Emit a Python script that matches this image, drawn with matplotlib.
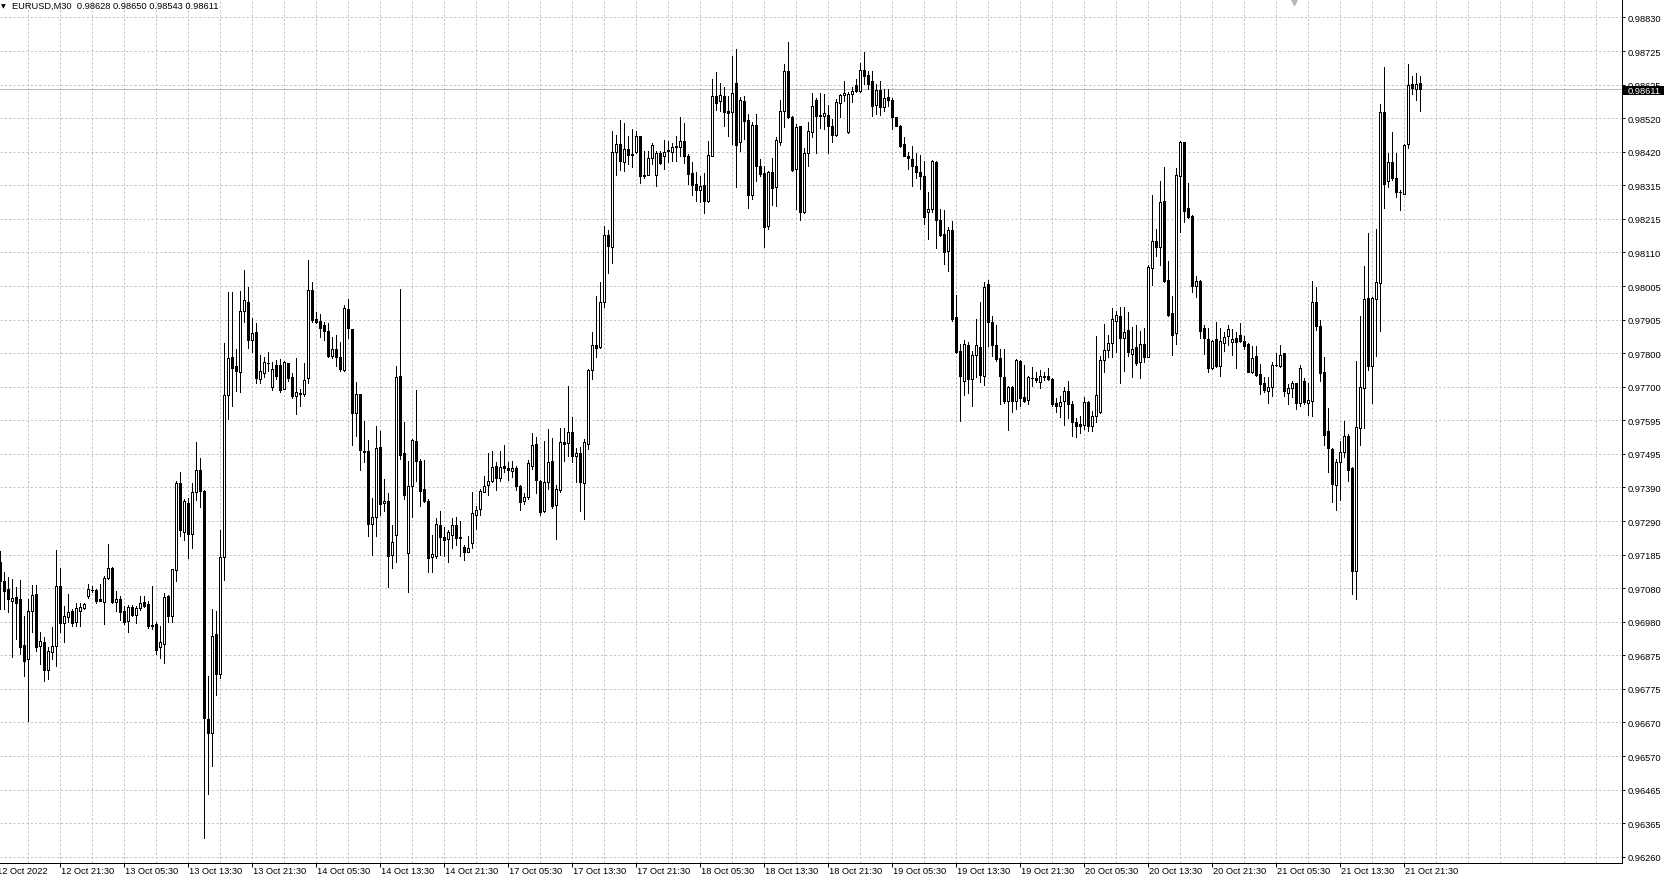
import numpy as np
import matplotlib
matplotlib.use("Agg")
import matplotlib.pyplot as plt
from matplotlib.patches import Rectangle
from matplotlib.transforms import blended_transform_factory

plt.rcParams['font.family'] = ['Liberation Sans', 'DejaVu Sans']

# EURUSD M30 candles, prices in points (1e-5)
open_pts = [
    97162, 97105, 97080, 97044, 97056, 97049, 96908, 96866, 97014, 97065, 96904, 96918, 96833, 96888, 96906, 97089,
    96975, 96995, 97012, 96978, 97014, 97022, 97060, 97078, 97077, 97049, 97041, 97115, 97144, 97039, 97049, 97013,
    96981, 97024, 97001, 97022, 97039, 97034, 96971, 96973, 96901, 96910, 97060, 96998, 97138, 97406, 97254, 97342,
    97248, 97377, 97444, 97380, 96682, 96638, 96943, 96820, 97178, 97673, 97789, 97764, 97744, 97931, 97960, 97842,
    97866, 97723, 97740, 97773, 97699, 97767, 97766, 97693, 97772, 97728, 97670, 97680, 97678, 97727, 97996, 97907,
    97902, 97889, 97871, 97793, 97816, 97789, 97752, 97937, 97877, 97619, 97677, 97504, 97501, 97279, 97299, 97514,
    97342, 97348, 97184, 97246, 97733, 97495, 97190, 97396, 97534, 97471, 97386, 97348, 97177, 97180, 97277, 97238,
    97233, 97246, 97277, 97238, 97210, 97194, 97220, 97308, 97325, 97378, 97398, 97412, 97458, 97420, 97456, 97450,
    97440, 97450, 97396, 97348, 97361, 97458, 97524, 97412, 97320, 97409, 97471, 97337, 97382, 97529, 97526, 97562,
    97486, 97495, 97405, 97524, 97751, 97827, 97820, 97958, 98165, 98126, 98417, 98442, 98389, 98427, 98412, 98417,
    98466, 98347, 98349, 98399, 98349, 98414, 98407, 98423, 98419, 98435, 98432, 98451, 98407, 98354, 98320, 98303,
    98317, 98269, 98407, 98589, 98573, 98589, 98545, 98540, 98629, 98448, 98575, 98517, 98287, 98501, 98376, 98354,
    98192, 98356, 98310, 98450, 98545, 98665, 98524, 98366, 98497, 98233, 98414, 98480, 98577, 98530, 98529, 98531,
    98499, 98470, 98567, 98593, 98478, 98596, 98623, 98605, 98669, 98655, 98637, 98563, 98608, 98555, 98585, 98578,
    98524, 98499, 98443, 98407, 98397, 98374, 98356, 98344, 98233, 98244, 98389, 98211, 98167, 98114, 98179, 97912,
    97808, 97716, 97827, 97723, 97797, 97820, 97733, 98014, 97899, 97828, 97787, 97728, 97657, 97700, 97657, 97779,
    97667, 97659, 97727, 97725, 97713, 97732, 97731, 97723, 97649, 97639, 97657, 97685, 97646, 97590, 97585, 97583,
    97652, 97578, 97611, 97621, 97782, 97813, 97833, 97902, 97915, 97848, 97873, 97800, 97820, 97774, 97830, 97791,
    98062, 98145, 98126, 98269, 98026, 97925, 97864, 98346, 98448, 98247, 98221, 98009, 98024, 97878, 97846, 97756,
    97846, 97762, 97832, 97854, 97835, 97848, 97858, 97838, 97830, 97745, 97792, 97738, 97711, 97687, 97700, 97767,
    97764, 97802, 97681, 97695, 97711, 97648, 97716, 97651, 97656, 97959, 97884, 97744, 97563, 97509, 97399, 97468,
    97498, 97547, 97449, 97135, 97572, 97695, 97971, 97763, 97968, 98017, 98542, 98329, 98389, 98338, 98297, 98291,
    98444, 98626, 98611, 98628,
]
high_pts = [
    97197, 97131, 97116, 97111, 97087, 97107, 96998, 97049, 97092, 97092, 96947, 96932, 96901, 96965, 97200, 97143,
    97029, 97065, 97019, 97037, 97037, 97037, 97095, 97090, 97080, 97095, 97121, 97218, 97146, 97075, 97060, 97029,
    97032, 97032, 97029, 97060, 97060, 97044, 97090, 96978, 96968, 97067, 97063, 97142, 97412, 97438, 97357, 97359,
    97404, 97529, 97482, 97383, 96814, 97019, 97014, 97260, 97834, 97990, 97990, 97816, 97992, 98057, 98004, 97910,
    97893, 97795, 97791, 97807, 97775, 97781, 97785, 97779, 97773, 97740, 97787, 97693, 97772, 98086, 98021, 97928,
    97922, 97898, 97895, 97851, 97857, 97836, 97951, 97969, 97877, 97713, 97678, 97595, 97536, 97359, 97578, 97565,
    97417, 97374, 97276, 97764, 97999, 97590, 97473, 97539, 97689, 97478, 97476, 97356, 97245, 97297, 97318, 97269,
    97262, 97297, 97299, 97287, 97216, 97243, 97378, 97333, 97386, 97427, 97496, 97504, 97470, 97504, 97522, 97470,
    97473, 97456, 97398, 97373, 97476, 97558, 97544, 97415, 97534, 97570, 97541, 97398, 97572, 97572, 97703, 97608,
    97511, 97514, 97539, 97754, 97868, 97976, 98019, 98190, 98180, 98483, 98471, 98517, 98507, 98468, 98487, 98483,
    98468, 98422, 98422, 98446, 98422, 98420, 98456, 98453, 98446, 98466, 98524, 98506, 98412, 98389, 98358, 98346,
    98354, 98453, 98642, 98662, 98629, 98616, 98591, 98713, 98734, 98585, 98591, 98534, 98509, 98534, 98397, 98376,
    98361, 98399, 98465, 98578, 98688, 98754, 98527, 98504, 98499, 98429, 98509, 98599, 98582, 98599, 98596, 98562,
    98519, 98580, 98596, 98637, 98603, 98616, 98642, 98690, 98723, 98667, 98667, 98626, 98637, 98611, 98611, 98582,
    98526, 98501, 98463, 98417, 98437, 98415, 98409, 98392, 98295, 98395, 98392, 98244, 98240, 98187, 98208, 97980,
    97830, 97843, 97837, 97810, 97907, 97960, 98021, 98026, 97915, 97889, 97815, 97815, 97703, 97703, 97784, 97781,
    97766, 97733, 97759, 97743, 97752, 97743, 97756, 97725, 97664, 97672, 97700, 97716, 97657, 97603, 97611, 97667,
    97657, 97626, 97856, 97792, 97891, 97858, 97939, 97932, 97942, 97942, 97929, 97881, 97889, 97871, 97879, 98072,
    98286, 98182, 98328, 98373, 98084, 97976, 98368, 98453, 98450, 98323, 98225, 98039, 98026, 97888, 97878, 97843,
    97899, 97878, 97866, 97888, 97876, 97866, 97894, 97854, 97832, 97823, 97825, 97769, 97728, 97728, 97774, 97803,
    97827, 97804, 97708, 97716, 97711, 97766, 97725, 97711, 98023, 98006, 97905, 97791, 97634, 97511, 97478, 97533,
    97593, 97555, 97452, 97777, 97916, 98069, 98170, 97973, 98183, 98564, 98679, 98416, 98480, 98416, 98302, 98444,
    98688, 98652, 98659, 98650,
]
low_pts = [
    97019, 97019, 97009, 96871, 96927, 96881, 96814, 96677, 96947, 96891, 96850, 96799, 96804, 96866, 96845, 96947,
    96917, 96978, 96968, 96966, 96968, 97019, 97051, 97070, 97037, 97043, 96973, 97111, 97037, 97014, 96986, 96973,
    96949, 96998, 96975, 97017, 97024, 96961, 96957, 96881, 96868, 96853, 96978, 96978, 97105, 97242, 97230, 97174,
    97207, 97353, 97330, 96316, 96451, 96539, 96756, 96808, 97107, 97600, 97641, 97687, 97682, 97898, 97819, 97807,
    97711, 97711, 97728, 97746, 97690, 97723, 97682, 97691, 97717, 97666, 97615, 97641, 97670, 97711, 97898, 97893,
    97851, 97843, 97789, 97787, 97764, 97748, 97748, 97849, 97521, 97549, 97445, 97470, 97243, 97184, 97243, 97305,
    97320, 97087, 97144, 97164, 97478, 97354, 97070, 97299, 97412, 97335, 97345, 97131, 97133, 97174, 97184, 97180,
    97162, 97207, 97216, 97182, 97169, 97192, 97204, 97264, 97308, 97376, 97368, 97409, 97384, 97412, 97437, 97415,
    97422, 97384, 97323, 97340, 97356, 97447, 97374, 97305, 97315, 97386, 97327, 97233, 97376, 97473, 97488, 97468,
    97409, 97320, 97294, 97509, 97723, 97789, 97817, 97942, 98048, 98078, 98348, 98364, 98359, 98381, 98371, 98414,
    98322, 98337, 98348, 98381, 98313, 98381, 98366, 98389, 98392, 98392, 98407, 98384, 98320, 98286, 98267, 98264,
    98230, 98264, 98405, 98548, 98545, 98499, 98466, 98443, 98310, 98422, 98458, 98246, 98274, 98328, 98346, 98126,
    98182, 98257, 98252, 98440, 98496, 98521, 98361, 98244, 98211, 98231, 98374, 98463, 98415, 98492, 98488, 98415,
    98448, 98468, 98524, 98575, 98476, 98570, 98601, 98601, 98626, 98611, 98529, 98534, 98531, 98545, 98560, 98488,
    98497, 98432, 98405, 98366, 98315, 98340, 98305, 98198, 98152, 98233, 98124, 98162, 98075, 98055, 97902, 97803,
    97593, 97675, 97680, 97641, 97728, 97713, 97705, 97825, 97794, 97777, 97646, 97649, 97568, 97623, 97631, 97639,
    97652, 97646, 97701, 97713, 97694, 97721, 97721, 97639, 97621, 97606, 97582, 97603, 97549, 97544, 97558, 97570,
    97565, 97565, 97590, 97619, 97745, 97789, 97789, 97807, 97711, 97749, 97794, 97728, 97766, 97725, 97774, 97789,
    98011, 98101, 98073, 98019, 97917, 97796, 97830, 98172, 98205, 98215, 97988, 97973, 97849, 97800, 97745, 97754,
    97759, 97731, 97810, 97827, 97796, 97757, 97835, 97815, 97743, 97741, 97733, 97677, 97682, 97649, 97672, 97762,
    97759, 97670, 97645, 97667, 97631, 97640, 97645, 97613, 97609, 97872, 97716, 97522, 97438, 97347, 97321, 97353,
    97484, 97410, 97066, 97049, 97520, 97574, 97752, 97651, 97793, 97870, 98247, 98312, 98331, 98280, 98239, 98289,
    98430, 98595, 98578, 98543,
]
close_pts = [
    97105, 97075, 97049, 97052, 97037, 96901, 96860, 97013, 97062, 96903, 96920, 96833, 96889, 96904, 97089, 96975,
    96996, 97009, 96976, 97022, 97024, 97034, 97080, 97077, 97044, 97044, 97115, 97144, 97039, 97049, 97010, 96978,
    97024, 97001, 97022, 97036, 97029, 96968, 96966, 96894, 96917, 97055, 96998, 97141, 97405, 97260, 97348, 97248,
    97377, 97445, 97380, 96685, 96638, 96935, 96820, 97178, 97673, 97787, 97758, 97746, 97931, 97966, 97843, 97863,
    97725, 97746, 97774, 97771, 97755, 97731, 97690, 97775, 97725, 97672, 97682, 97678, 97719, 97996, 97904, 97898,
    97878, 97869, 97793, 97814, 97789, 97755, 97939, 97878, 97619, 97676, 97506, 97500, 97279, 97299, 97511, 97339,
    97348, 97180, 97223, 97728, 97491, 97369, 97396, 97536, 97471, 97381, 97350, 97174, 97186, 97280, 97240, 97231,
    97253, 97277, 97235, 97235, 97194, 97204, 97312, 97323, 97381, 97394, 97410, 97452, 97420, 97452, 97449, 97445,
    97449, 97394, 97347, 97363, 97466, 97521, 97415, 97317, 97407, 97470, 97333, 97386, 97531, 97524, 97562, 97486,
    97495, 97407, 97531, 97752, 97827, 97818, 97958, 98165, 98129, 98417, 98443, 98390, 98427, 98410, 98410, 98466,
    98346, 98345, 98400, 98438, 98414, 98385, 98419, 98421, 98433, 98433, 98453, 98407, 98351, 98318, 98303, 98313,
    98269, 98409, 98589, 98568, 98594, 98540, 98538, 98598, 98441, 98578, 98514, 98287, 98501, 98376, 98351, 98189,
    98358, 98307, 98456, 98545, 98665, 98524, 98364, 98494, 98233, 98415, 98481, 98558, 98529, 98528, 98536, 98497,
    98470, 98572, 98593, 98599, 98596, 98605, 98604, 98669, 98652, 98626, 98560, 98608, 98555, 98583, 98577, 98524,
    98499, 98437, 98407, 98399, 98374, 98356, 98344, 98218, 98244, 98392, 98211, 98164, 98111, 98179, 97907, 97805,
    97731, 97830, 97723, 97797, 97827, 97736, 98006, 97899, 97828, 97784, 97731, 97657, 97700, 97657, 97782, 97664,
    97657, 97730, 97725, 97721, 97731, 97730, 97723, 97646, 97641, 97654, 97685, 97646, 97590, 97580, 97580, 97652,
    97578, 97611, 97674, 97782, 97813, 97833, 97907, 97919, 97848, 97868, 97805, 97815, 97771, 97830, 97791, 98067,
    98145, 98126, 98264, 98024, 97920, 97859, 98348, 98450, 98238, 98218, 98009, 98024, 97871, 97848, 97756, 97840,
    97762, 97838, 97851, 97876, 97846, 97837, 97838, 97825, 97745, 97786, 97736, 97708, 97690, 97700, 97766, 97765,
    97797, 97686, 97695, 97711, 97648, 97757, 97653, 97658, 97959, 97886, 97741, 97552, 97511, 97401, 97470, 97498,
    97549, 97445, 97135, 97577, 97697, 97968, 97763, 97971, 98020, 98542, 98321, 98386, 98340, 98296, 98295, 98438,
    98624, 98615, 98626, 98611,
]

time_labels = ["12 Oct 2022", "12 Oct 21:30", "13 Oct 05:30", "13 Oct 13:30", "13 Oct 21:30",
               "14 Oct 05:30", "14 Oct 13:30", "14 Oct 21:30", "17 Oct 05:30", "17 Oct 13:30",
               "17 Oct 21:30", "18 Oct 05:30", "18 Oct 13:30", "18 Oct 21:30", "19 Oct 05:30",
               "19 Oct 13:30", "19 Oct 21:30", "20 Oct 05:30", "20 Oct 13:30", "20 Oct 21:30",
               "21 Oct 05:30", "21 Oct 13:30", "21 Oct 21:30"]
price_labels = ["0.98830", "0.98725", "0.98625", "0.98520", "0.98420", "0.98315", "0.98215",
                "0.98110", "0.98005", "0.97905", "0.97800", "0.97700", "0.97595", "0.97495",
                "0.97390", "0.97290", "0.97185", "0.97080", "0.96980", "0.96875", "0.96775",
                "0.96670", "0.96570", "0.96465", "0.96365", "0.96260"]
header = "EURUSD,M30  0.98628 0.98650 0.98543 0.98611"
bid_price = 0.98611
bid_label = "0.98611"

o = np.array(open_pts) / 1e5
h = np.array(high_pts) / 1e5
l = np.array(low_pts) / 1e5
c = np.array(close_pts) / 1e5
n = len(o)
x = np.arange(n)

W, H = 1668, 878
PX = 72 / 100.0
fig = plt.figure(figsize=(W / 100, H / 100), dpi=100)
fig.patch.set_facecolor('white')
ax_right = 1621.7
ax_bot = 864
ax = fig.add_axes([0, (H - ax_bot) / H, ax_right / W, ax_bot / H])
ax.set_facecolor('white')
ax.set_xlim(-0.075, 405.35)
ax.set_ylim(0.962409, 0.988866)

# grid
grid_col = '#c4c4c4'
dash = (0, (3 * PX, 3 * PX))
price_grid = 0.98830 - 0.001028 * np.arange(len(price_labels))
vgrid = np.arange(-1, 406, 8)
ax.vlines(vgrid, 0.962409, 0.988866, colors=grid_col, linewidth=PX, linestyles=dash, zorder=1)
ax.hlines(price_grid, -0.075, 405.35, colors=grid_col, linewidth=PX, linestyles=dash, zorder=1)

# bid line
ax.axhline(bid_price, color='#bdbdbd', linewidth=PX, zorder=1.5)

# candles
ax.vlines(x, l, h, colors='black', linewidth=PX, antialiased=False, zorder=3)
up = c >= o
bottoms = np.minimum(o, c)
heights = np.abs(c - o)
ax.bar(x, heights, width=0.5, bottom=bottoms,
       color=np.where(up, 'white', 'black'), edgecolor='black',
       linewidth=PX, antialiased=False, zorder=4)

# spines
for s in ['left', 'top']:
    ax.spines[s].set_visible(False)
for s in ['right', 'bottom']:
    ax.spines[s].set_color('black')
    ax.spines[s].set_linewidth(PX)

# y axis on the right
ax.yaxis.tick_right()
ax.set_yticks(price_grid)
ax.set_yticklabels(price_labels)
ax.tick_params(axis='y', direction='out', length=3 * PX, width=PX, pad=3 * PX,
               labelsize=6.7, colors='black')

# x ticks
tpos = np.arange(len(time_labels)) * 16 - 1
vis = tpos >= 0
ax.set_xticks(tpos[vis])
ax.set_xticklabels([])
ax.tick_params(axis='x', direction='out', length=4 * PX, width=PX)
tr = blended_transform_factory(ax.transData, fig.transFigure)
for p, lab in zip(tpos, time_labels):
    ax.text(p + 0.25, (H - 871.5) / H, lab, transform=tr, ha='left', va='center',
            fontsize=6.7, color='black', clip_on=False)

# header
fig.text(0.5 / W, 1 - 6.5 / H, "\u25BC", fontsize=4.5, family='DejaVu Sans',
         ha='left', va='center', color='black')
fig.text(11.7 / W, 1 - 6.7 / H, header, fontsize=6.7, ha='left', va='center', color='black')

# bid price box
fig.add_artist(Rectangle((1623 / W, (H - 95.7) / H), 41 / W, 9 / H,
                         transform=fig.transFigure, facecolor='black', edgecolor='none', zorder=5))
fig.text(1627.7 / W, 1 - 91 / H, bid_label, fontsize=6.7, color='white',
         ha='left', va='center', zorder=6)

# chart shift marker
ax.plot([1293.5 / ax_right], [1 - 2.5 / ax_bot], marker='v', markersize=5,
        color='#b8b8b8', transform=ax.transAxes, clip_on=False, zorder=6)

fig.savefig('out.png', dpi=100, facecolor='white')
